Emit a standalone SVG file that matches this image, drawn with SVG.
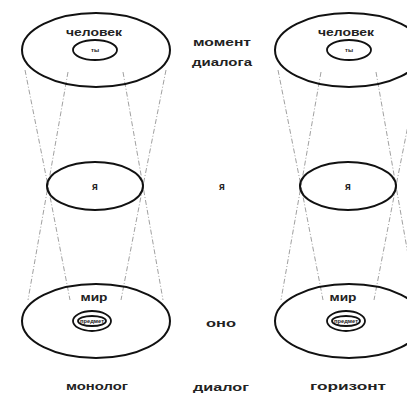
<svg xmlns="http://www.w3.org/2000/svg" width="407" height="394" viewBox="0 0 407 394">
<style>
.e{fill:none;stroke:#111;stroke-width:2}
.i{fill:none;stroke:#111;stroke-width:1.8}
.d{stroke:#888;stroke-width:0.8;stroke-dasharray:5 2 1 2;fill:none}
text{font-family:"Liberation Sans",Arial,sans-serif;font-weight:bold;fill:#222;text-anchor:middle}
.s{font-size:10px}
.t{font-size:6px}
</style>
<rect width="407" height="394" fill="#fff"/>
<g id="connectors">
<path class="d" d="M25 70 L48 186 L70 300 M68 72 L48 186 L28 300 M166 70 L143 186 L121 300 M123 72 L143 186 L163 300"/>
<path class="d" d="M278 70 L301 186 L323 300 M321 72 L301 186 L281 300 M419 70 L396 186 L374 300 M376 72 L396 186 L416 300"/>
</g>
<g id="left-top"><ellipse class="e" cx="96" cy="50" rx="74" ry="37"/><text class="s" x="94" y="36" textLength="56" lengthAdjust="spacingAndGlyphs">человек</text></g>
<g id="left-top-inner"><ellipse class="i" cx="95" cy="50" rx="22" ry="10"/><text class="t" x="95" y="52">ты</text></g>
<g id="left-mid"><ellipse class="e" cx="95" cy="186" rx="48" ry="24"/><text class="s" x="95" y="190">я</text></g>
<g id="left-bottom"><ellipse class="e" cx="96" cy="321" rx="74" ry="37"/><text class="s" x="94" y="301" textLength="27" lengthAdjust="spacingAndGlyphs">мир</text></g>
<g id="left-bottom-inner"><ellipse class="i" cx="92" cy="321" rx="19" ry="10"/><ellipse class="i" cx="92" cy="321" rx="14" ry="5" stroke-width="1"/><text class="t" x="92" y="323" textLength="24" lengthAdjust="spacingAndGlyphs">предмет</text></g>
<g id="right-top"><ellipse class="e" cx="349" cy="50" rx="74" ry="37"/><text class="s" x="346" y="36" textLength="56" lengthAdjust="spacingAndGlyphs">человек</text></g>
<g id="right-top-inner"><ellipse class="i" cx="349" cy="50" rx="22" ry="10"/><text class="t" x="349" y="52">ты</text></g>
<g id="right-mid"><ellipse class="e" cx="348" cy="186" rx="48" ry="24"/><text class="s" x="348" y="190">я</text></g>
<g id="right-bottom"><ellipse class="e" cx="349" cy="321" rx="74" ry="37"/><text class="s" x="343" y="301" textLength="27" lengthAdjust="spacingAndGlyphs">мир</text></g>
<g id="right-bottom-inner"><ellipse class="i" cx="346" cy="321" rx="19" ry="10"/><ellipse class="i" cx="346" cy="321" rx="14" ry="5" stroke-width="1"/><text class="t" x="346" y="323" textLength="24" lengthAdjust="spacingAndGlyphs">предмет</text></g>
<g id="center-labels">
<text class="s" x="222" y="46" textLength="58" lengthAdjust="spacingAndGlyphs">момент</text>
<text class="s" x="222" y="66" textLength="60" lengthAdjust="spacingAndGlyphs">диалога</text>
<text class="s" x="222" y="190">я</text>
<text class="s" x="221" y="327" textLength="30" lengthAdjust="spacingAndGlyphs">оно</text>
</g>
<g id="bottom-labels">
<text class="s" x="97" y="390" textLength="62" lengthAdjust="spacingAndGlyphs">монолог</text>
<text class="s" x="221" y="391" textLength="56" lengthAdjust="spacingAndGlyphs">диалог</text>
<text class="s" x="348" y="390" textLength="76" lengthAdjust="spacingAndGlyphs">горизонт</text>
</g>
</svg>
